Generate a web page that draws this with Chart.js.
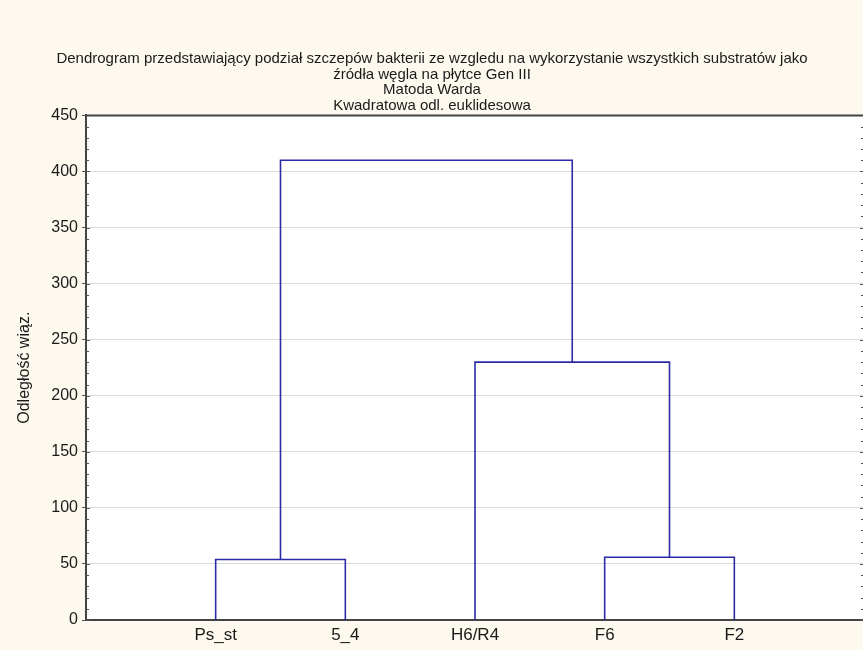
<!DOCTYPE html>
<html>
<head>
<meta charset="utf-8">
<script src="https://cdn.jsdelivr.net/npm/chart.js@4"></script>
<style>
  html, body { margin: 0; padding: 0; background: #fdf9ef; overflow: hidden; }
  #wrap { width: 880px; height: 650px; }
</style>
</head>
<body>
<div id="wrap"><canvas id="dendrogram"></canvas></div>
<script>
// liscie dendrogramu (kolejnosc na osi X)
const etykiety = ["Ps_st", "5_4", "H6/R4", "F6", "F2"];
const pozycje = [1, 2, 3, 4, 5];

// polaczenia: [lewe dziecko, prawe dziecko, odleglosc wiazania]
// indeksy 0-4 to liscie, 5+ to kolejne polaczenia
const polaczenia = [
  [0, 1, 54],
  [3, 4, 56],
  [2, 6, 230],
  [5, 7, 410]
];

const tickiY = [0, 50, 100, 150, 200, 250, 300, 350, 400, 450];
const tytul = [
  "Dendrogram przedstawiający podział szczepów bakterii ze wzgledu na wykorzystanie wszystkich substratów jako",
  "źródła węgla na płytce Gen III",
  "Matoda Warda",
  "Kwadratowa odl. euklidesowa"
];

const kolorLinii = "#2b2ba6";
const czcionka = "Liberation Sans, Arial, sans-serif";

// budowa wezlow: x = srodek dzieci, y = wysokosc polaczenia
const wezly = pozycje.map(p => ({ x: p, y: 0 }));
const datasets = [];
polaczenia.forEach(([a, b, h]) => {
  const L = wezly[a], R = wezly[b];
  datasets.push({
    data: [
      { x: L.x, y: L.y },
      { x: L.x, y: h },
      { x: R.x, y: h },
      { x: R.x, y: R.y }
    ],
    borderColor: kolorLinii,
    borderWidth: 1.6,
    pointRadius: 0,
    tension: 0,
    fill: false
  });
  wezly.push({ x: (L.x + R.x) / 2, y: h });
});

// tlo obszaru wykresu, ramka, drobne ticki
const ramka = {
  id: "ramka",
  beforeDraw(chart) {
    const { ctx, chartArea: a } = chart;
    ctx.save();
    ctx.fillStyle = "#ffffff";
    ctx.fillRect(a.left, a.top, a.right - a.left, a.bottom - a.top);
    ctx.restore();
  },
  afterDraw(chart) {
    const { ctx, chartArea: a } = chart;
    const y = chart.scales.y;
    ctx.save();
    ctx.strokeStyle = "#555";
    ctx.lineWidth = 1;
    for (let v = 0; v <= 450; v += 10) {
      const py = Math.round(y.getPixelForValue(v)) + 0.5;
      const dl = v % 50 === 0 ? 4 : 3;
      ctx.beginPath();
      ctx.moveTo(a.left, py); ctx.lineTo(a.left + dl, py);
      ctx.moveTo(a.right, py); ctx.lineTo(a.right - dl, py);
      ctx.stroke();
    }
    ctx.strokeStyle = "#444";
    ctx.lineWidth = 2;
    ctx.beginPath();
    ctx.moveTo(a.left, a.top); ctx.lineTo(a.right, a.top); ctx.lineTo(a.right, a.bottom);
    ctx.stroke();
    ctx.restore();
  }
};

new Chart(document.getElementById("dendrogram"), {
  type: "line",
  data: { datasets },
  options: {
    responsive: true,
    maintainAspectRatio: false,
    animation: false,
    layout: { padding: { top: 0, right: 16, left: 0, bottom: 0 } },
    plugins: {
      legend: { display: false },
      tooltip: { enabled: false },
      title: {
        display: true,
        text: tytul,
        color: "#1a1a1a",
        font: { family: czcionka, size: 15, weight: "normal", lineHeight: 1.04 },
        padding: { top: 51, bottom: 2 }
      }
    },
    scales: {
      x: {
        type: "linear",
        min: 0,
        max: 6,
        afterBuildTicks: s => { s.ticks = pozycje.map(v => ({ value: v })); },
        afterFit: s => { s.height = 30; },
        grid: { display: false, drawTicks: false },
        border: { display: true, color: "#444", width: 2 },
        ticks: {
          padding: 5,
          color: "#1a1a1a",
          font: { family: czcionka, size: 17 },
          callback: v => etykiety[pozycje.indexOf(v)] || ""
        }
      },
      y: {
        min: 0,
        max: 450,
        afterBuildTicks: s => { s.ticks = tickiY.map(v => ({ value: v })); },
        afterFit: s => { s.width = 86; },
        grid: { color: "#dcdcdc", tickColor: "#555", tickLength: 4 },
        border: { display: true, color: "#444", width: 2 },
        ticks: {
          padding: 4,
          color: "#1a1a1a",
          font: { family: czcionka, size: 16 }
        },
        title: {
          display: true,
          text: "Odległość wiąz.",
          color: "#1a1a1a",
          font: { family: czcionka, size: 16 },
          padding: { top: 15, bottom: 0 }
        }
      }
    }
  },
  plugins: [ramka]
});
</script>
</body>
</html>
